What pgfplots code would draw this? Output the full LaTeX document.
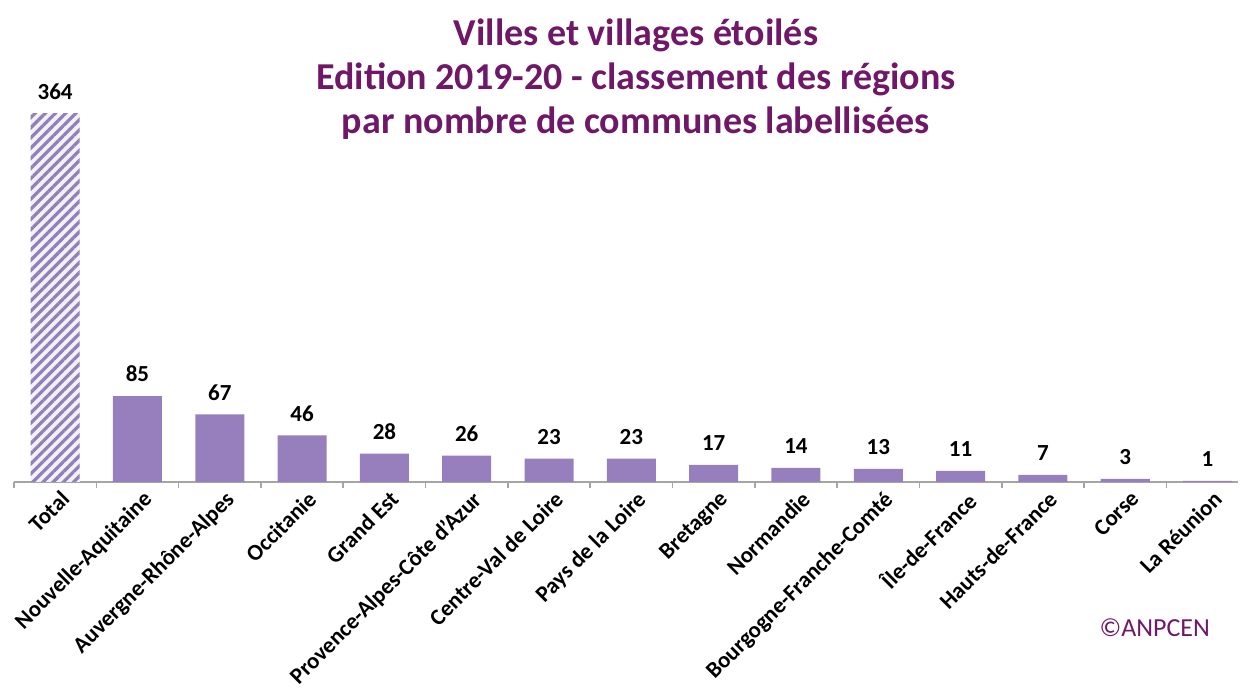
\documentclass[border=0pt]{standalone}
\usepackage{fontspec}
\setmainfont{Carlito}
\usepackage{pgfplots}
\pgfplotsset{compat=1.18}
\usetikzlibrary{patterns.meta}

\definecolor{barcol}{RGB}{151,127,189}
\definecolor{hatchcol}{RGB}{145,128,180}
\definecolor{hatchbg}{RGB}{244,240,250}
\definecolor{titlecol}{RGB}{112,24,104}
\definecolor{axcol}{RGB}{165,165,165}

\begin{document}
\begin{tikzpicture}
\begin{axis}[
    width=612pt, height=202.2pt,
    scale only axis,
    xmin=-0.5, xmax=14.37,
    ymin=0, ymax=400,
    hide y axis,
    axis x line*=bottom,
    axis line style={axcol, line width=0.8pt},
    ybar, bar width=24.5pt,
    xtick={0,...,14},
    major tick length=0pt,
    xticklabels={Total, Nouvelle-Aquitaine, Auvergne-Rhône-Alpes, Occitanie, Grand Est,
        Provence-Alpes-Côte d'Azur, Centre-Val de Loire, Pays de la Loire, Bretagne,
        Normandie, Bourgogne-Franche-Comté, Île-de-France, Hauts-de-France, Corse, La Réunion},
    x tick label style={rotate=45, anchor=north east, font=\bfseries\fontsize{11.4}{13}\selectfont,
        inner sep=1pt, yshift=-3pt},
    extra x ticks={-0.5,0.5,...,13.5},
    extra x tick labels={},
    extra x tick style={major tick length=3pt, tick align=outside,
        tick style={axcol, line width=0.8pt}},
    nodes near coords,
    every node near coord/.append style={font=\bfseries\fontsize{11.5}{13}\selectfont, black, yshift=3.5pt},
    /pgf/number format/assume math mode=true,
    clip=false,
]
\addplot[bar shift=0pt, draw=none, fill=hatchbg, postaction={
    pattern={Lines[angle=45, distance=3.6pt, line width=1.6pt]}, pattern color=hatchcol}]
    coordinates {(0,364)};
\addplot[bar shift=0pt, draw=none, fill=barcol]
    coordinates {
        (1,85) (2,67) (3,46) (4,28) (5,26) (6,23) (7,23)
        (8,17) (9,14) (10,13) (11,11) (12,7) (13,3) (14,1)
    };
\coordinate (O) at (rel axis cs:0,0);
\node[align=center, font=\bfseries\fontsize{19}{22}\selectfont, text=titlecol]
    at ([xshift=5pt, yshift=-1pt]rel axis cs:0.5,1)
    {Villes et villages étoilés\\Edition 2019-20 - classement des régions\\par nombre de communes labellisées};
\node[font=\fontsize{13}{15}\selectfont, text=titlecol] at (rel axis cs:0.932,-0.361) {©ANPCEN};
\end{axis}
\pgfresetboundingbox
\path[use as bounding box] ([xshift=-7pt, yshift=-103pt]O) rectangle ++(620pt,344pt);
\end{tikzpicture}
\end{document}
